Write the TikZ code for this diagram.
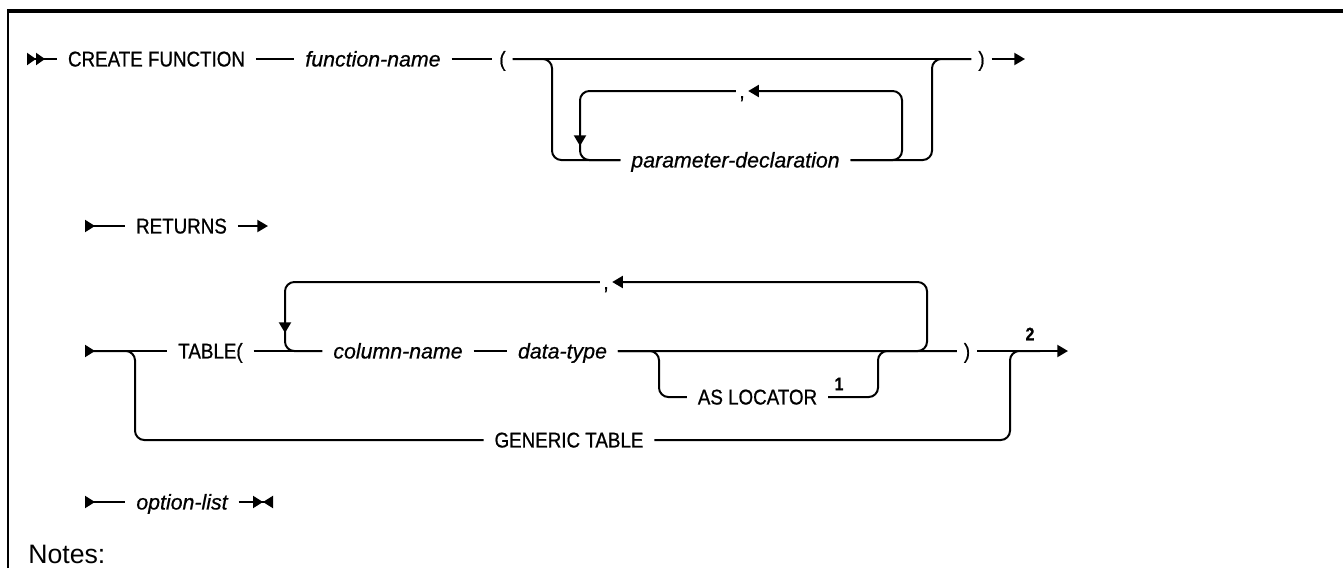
\documentclass[tikz,border=0pt]{standalone}
\usepackage{fontspec}
\setmainfont{Liberation Sans}
\newfontfamily\railfont{Liberation Sans}[FakeStretch=0.88,FakeBold=0.8]
\newfontfamily\varfont{Liberation Sans}[FakeBold=0.6]
\usepackage{tikz}
\usetikzlibrary{arrows.meta}

\begin{document}
\begin{tikzpicture}[
  x=0.75pt, y=-0.75pt,
  font=\railfont\fontsize{16}{19}\selectfont,
  >={Triangle[length=8pt,width=9pt]},
  kw/.style={inner xsep=8pt, inner ysep=0pt, text height=11.2pt, text depth=0pt},
  var/.style={kw, font=\varfont\fontsize{16}{19}\selectfont\itshape},
  paren/.style={kw, inner xsep=5pt},
  punct/.style={kw, inner xsep=2.5pt},
  fnote/.style={inner sep=0pt, font=\railfont\fontsize{13.5}{15}\selectfont\bfseries},
  rail/.style={line width=1.5pt, rounded corners=7pt},
  flow/.style={rail, ->},
  entry/.style={rail, {Triangle[reversed,length=7.5pt,width=9pt]}-},
  frame/.style={line width=2pt}
]
\useasboundingbox (0,0) rectangle (1343,568);

\draw[frame] (8,568) -- (8,11);
\draw[frame, line width=2.6pt] (7,11) -- (1343,11);

\coordinate (s1) at (27,59);
\node[kw] (create) at (156.5,59) {CREATE FUNCTION};
\node[var] (fname) at (373,59) {function-name};
\node[paren] (lp) at (502.5,59) {(};
\node[paren] (rp) at (981.5,59) {)};
\coordinate (e1) at (1025,59);
\node[var] (pdecl) at (735.5,160) {parameter-declaration};
\node[punct] (comma1) at (742,91) {,};
\coordinate (j1) at (552,59);
\coordinate (j2) at (932,59);
\coordinate (k1) at (902,91);
\coordinate (k2) at (580,160);
\coordinate (d1) at (580,146);

\draw[rail, {Triangle[reversed,length=6.75pt,width=9pt]Triangle[reversed,length=6.75pt,width=9pt]}-] (s1) -- (create);
\draw[rail] (create) -- (fname);
\draw[rail] (fname) -- (lp);
\draw[rail] (lp) -- (rp);
\draw[flow] (rp) -- (e1);
\draw[rail] (lp.east) -- (j1) |- (pdecl.west);
\draw[rail] (pdecl.east) -| (j2) -- (rp.west);
\draw[flow] (pdecl.east) -| (k1) -- (comma1.east);
\draw[rail] (comma1.west) -| (k2) -- (pdecl.west);
\draw[flow] (d1) ++(0,-22) -- (d1);

\coordinate (s2) at (85,226);
\node[kw] (ret) at (181.5,226) {RETURNS};
\coordinate (e2) at (268,226);
\draw[entry] (s2) -- (ret);
\draw[flow] (ret) -- (e2);

\coordinate (s3) at (85,351);
\node[kw] (tbl) at (210.5,351) {TABLE(};
\node[var] (col) at (398,351) {column-name};
\node[var] (dt) at (562.5,351) {data-type};
\node[kw] (asloc) at (757.5,397) {AS LOCATOR};
\node[fnote] (n1) at (839,384) {1};
\node[paren] (rp2) at (967,351) {)};
\node[fnote] (n2) at (1030,334) {2};
\node[kw] (gen) at (569,440) {GENERIC TABLE};
\node[punct] (comma2) at (606,282) {,};
\coordinate (e3) at (1068,351);
\coordinate (g1) at (135,351);
\coordinate (g2) at (1010,351);
\coordinate (g3) at (1040,351);
\coordinate (a1) at (659,351);
\coordinate (a2) at (878,351);
\coordinate (l1) at (285,351);
\coordinate (l2) at (927,282);
\coordinate (d2) at (285,333);

\draw[entry] (s3) -- (tbl);
\draw[rail] (s3) -- (g1) |- (gen.west);
\draw[rail] (gen.east) -| (g2) -- (g3);
\draw[rail] (tbl) -- (col);
\draw[rail] (col) -- (dt);
\draw[rail] (dt) -- (rp2);
\draw[flow] (rp2) -- (e3);
\draw[rail] (dt.east) -- (a1) |- (asloc.west);
\draw[rail] (asloc.east) -| (a2) -- (rp2.west);
\draw[flow] (dt.east) -| (l2) -- (comma2.east);
\draw[rail] (comma2.west) -| (l1) -- (col.west);
\draw[flow] (d2) ++(0,-22) -- (d2);

\coordinate (s4) at (85,502);
\node[var] (opt) at (182,502) {option-list};
\coordinate (e4) at (273,502);
\draw[entry] (s4) -- (opt);
\draw[rail, -{Triangle[length=7.5pt,width=9pt]Triangle[reversed,length=7.5pt,width=9pt]}] (opt) -- (e4);

\node[anchor=base west, inner sep=0pt, font=\fontsize{20}{24}\selectfont] (notes) at (28,563) {Notes:};
\end{tikzpicture}
\end{document}
